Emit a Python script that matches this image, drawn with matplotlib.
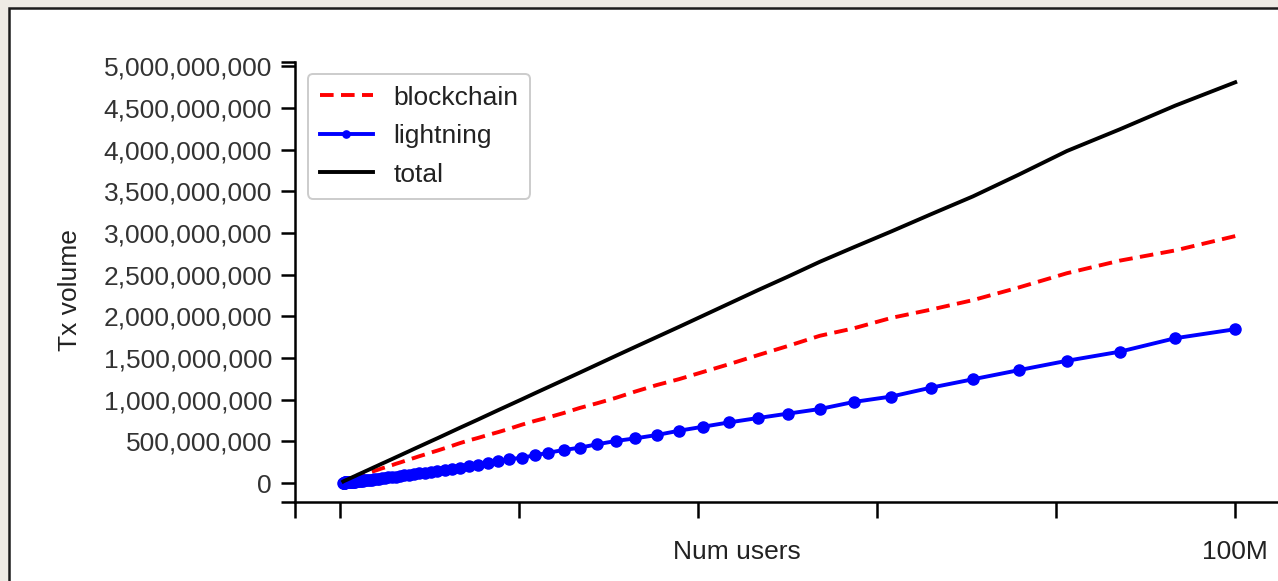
import matplotlib
matplotlib.use('Agg')
import matplotlib.pyplot as plt
from matplotlib.patches import Rectangle
from matplotlib.ticker import FixedLocator, FuncFormatter, NullFormatter

# number of users (millions)
users = [100, 93.3, 87.1, 81.2, 75.8, 70.7, 66.0, 61.6, 57.4, 53.6,
         50.0, 46.7, 43.5, 40.6, 37.9, 35.4, 33.0, 30.8, 28.7, 26.8,
         25.0, 23.3, 21.8, 20.3, 18.9, 17.7, 16.5, 15.4, 14.4, 13.4,
         12.5, 11.7, 10.9, 10.2, 9.47, 8.84, 8.25, 7.69, 7.18, 6.70,
         6.25, 5.83, 5.44, 5.08, 4.74, 4.42, 4.12, 3.85, 3.59, 3.35,
         3.13, 2.92, 2.72, 2.54, 2.37, 2.21, 2.06, 1.92, 1.79, 1.67,
         1.56, 1.46, 1.36, 1.27, 1.18, 1.10, 1.03, 0.96, 0.90, 0.84,
         0.78, 0.73, 0.68, 0.63, 0.59, 0.55, 0.52, 0.48, 0.45, 0.42,
         0.39]

# tx volume (millions)
lightning = [1846, 1738, 1576, 1467, 1354, 1245, 1144, 1038, 973, 888,
             832, 780, 728, 676, 628, 576, 536, 504, 464, 424,
             396, 364, 332, 304, 284, 264, 240, 220, 200, 184,
             172, 160, 148, 137, 126, 116, 108, 99, 92, 85,
             78, 73, 67, 62, 57, 53, 49, 45, 42, 39,
             36, 33, 31, 29, 27, 25, 23, 21, 20, 18,
             17, 16, 15, 14, 13, 12, 11, 10, 9.5, 8.8,
             8.2, 7.6, 7.1, 6.6, 6.1, 5.7, 5.3, 4.9, 4.6, 4.3,
             4.0]

blockchain = [2964, 2792, 2669, 2518, 2346, 2195, 2081, 1982, 1857, 1767,
              1643, 1535, 1427, 1334, 1247, 1176, 1098, 1021, 956, 901,
              840, 788, 746, 699, 650, 611, 575, 540, 511, 478,
              445, 417, 389, 366, 341, 320, 299, 280, 262, 245,
              230, 214, 201, 188, 177, 165, 154, 145, 135, 126,
              118, 111, 103, 96, 90, 84, 79, 74, 68, 64,
              60, 56, 52, 49, 45, 42, 40, 37, 34.5, 32.2,
              29.8, 28.4, 26.9, 24.4, 22.9, 21.3, 20.7, 19.1, 17.4, 16.7,
              15.0]

total = [4810, 4530, 4245, 3985, 3700, 3440, 3225, 3020, 2830, 2655,
         2475, 2315, 2155, 2010, 1875, 1752, 1634, 1525, 1420, 1325,
         1236, 1152, 1078, 1003, 934, 875, 815, 760, 711, 662,
         617, 577, 537, 503, 467, 436, 407, 379, 354, 330,
         308, 287, 268, 250, 234, 218, 203, 190, 177, 165,
         154, 144, 134, 125, 117, 109, 102, 95, 88, 82,
         77, 72, 67, 63, 58, 54, 51, 47, 44, 41,
         38, 36, 34, 31, 29, 27, 26, 24, 22, 21,
         19]

y_ticks = [0, 5e8, 1e9, 1.5e9, 2e9, 2.5e9, 3e9, 3.5e9, 4e9, 4.5e9, 5e9]
x_ticks = [0, 20e6, 40e6, 60e6, 80e6, 100e6]
x_tick_labels = ['', '', '', '', '', '100M']

plt.rcParams['font.family'] = ['Liberation Sans', 'DejaVu Sans']
FS = 19

W, H = 1278, 581
fig = plt.figure(figsize=(W / 100, H / 100), dpi=100)
fig.patch.set_facecolor('#eeebe5')
fig.patches.append(Rectangle((8.5 / W, -0.1), 1.2, 0.1 + (H - 7.5) / H,
                             transform=fig.transFigure, facecolor='white',
                             edgecolor='#1c1c1c', linewidth=1.8, zorder=-10))

ax = fig.add_axes([295 / W, (H - 502) / H, (1280 - 295) / W, (502 - 62.3) / H])
ax.patch.set_alpha(0)

xs = [u * 1e6 for u in users]
ax.plot(xs, [v * 1e6 for v in blockchain], color='#ff0000', lw=2.8,
        linestyle=(0, (3.5, 1.9)), label='blockchain')
ax.plot(xs, [v * 1e6 for v in lightning], color='#0000ff', lw=2.8,
        marker='o', markersize=8, label='lightning')
ax.plot(xs, [v * 1e6 for v in total], color='black', lw=2.8, label='total')

ax.set_xlim(-5e6, 105e6)
ax.set_ylim(-2.28e8, 5.05e9)

for s in ['top', 'right']:
    ax.spines[s].set_visible(False)
for s in ['left', 'bottom']:
    ax.spines[s].set_linewidth(1.8)

ax.yaxis.set_major_locator(FixedLocator(y_ticks))
ax.yaxis.set_major_formatter(FuncFormatter(lambda v, p: f'{int(round(v)):,}'))
ax.yaxis.set_minor_locator(FixedLocator([-2.28e8, 5.05e9]))
ax.yaxis.set_minor_formatter(NullFormatter())
ax.set_xticks(x_ticks)
ax.set_xticklabels(x_tick_labels)
ax.xaxis.set_minor_locator(FixedLocator([-5e6]))

ax.tick_params(axis='y', which='both', length=10, width=1.8, pad=6.5,
               labelsize=FS, labelcolor='#333333')
ax.tick_params(axis='x', which='both', length=11.5, width=1.8, pad=16,
               labelsize=FS, labelcolor='#222222')

ax.set_ylabel('Tx volume', fontsize=FS, color='#222222')
ax.yaxis.set_label_coords(-0.216, 0.482)
ax.set_xlabel('Num users', fontsize=FS, color='#222222')
ax.xaxis.set_label_coords(0.449, -0.086)

leg = ax.legend(loc='upper left', bbox_to_anchor=(0.0132, 0.974), borderaxespad=0,
                fontsize=FS, handlelength=2.0, handletextpad=0.78,
                borderpad=0.45, labelspacing=0.55, markerscale=0.65,
                framealpha=1, edgecolor='#cccccc')
leg.get_frame().set_linewidth(1.4)
for t in leg.get_texts():
    t.set_color('#222222')

fig.savefig('out.png', dpi=100, facecolor=fig.get_facecolor())
